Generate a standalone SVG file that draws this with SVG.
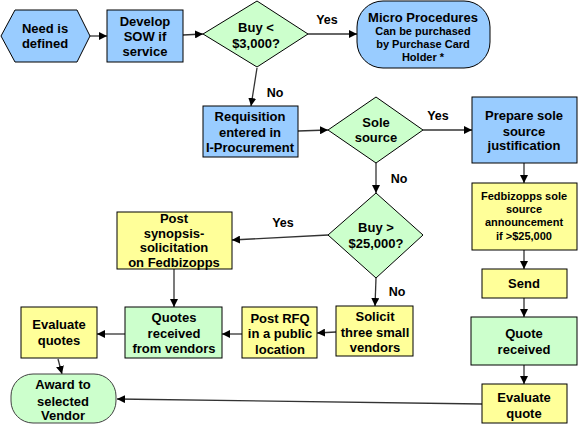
<svg xmlns="http://www.w3.org/2000/svg" width="578" height="424" viewBox="0 0 578 424">
<defs>
<marker id="ah" viewBox="0 0 10 10" refX="10" refY="5" markerWidth="8" markerHeight="8" markerUnits="userSpaceOnUse" orient="auto">
<path d="M0,0 L10,5 L0,10 z" fill="#000"/>
</marker>
<style>
.b{fill:#99CCFF;stroke:#000;stroke-width:1}
.g{fill:#CCFFCC;stroke:#000;stroke-width:1}
.y{fill:#FFFF99;stroke:#000;stroke-width:1}
.gr{fill:#CCFFCC;stroke:#404040;stroke-width:1}
text{font-family:"Liberation Sans",Arial,sans-serif;font-weight:bold;fill:#000;text-anchor:middle}
.t{font-size:13px}
.s{font-size:11px}
.l{font-size:12.5px;text-anchor:middle}
.c line{stroke:#333;stroke-width:1.3;marker-end:url(#ah)}
</style>
</defs>
<rect width="578" height="424" fill="#fff"/>
<g class="c" id="connectors">
<line x1="90" y1="36" x2="107" y2="36"/>
<line x1="183" y1="35" x2="203" y2="34"/>
<line x1="308" y1="34" x2="357" y2="34"/>
<line x1="257" y1="68" x2="251" y2="106"/>
<line x1="298" y1="131" x2="328" y2="130"/>
<line x1="423" y1="130" x2="472" y2="130"/>
<line x1="524" y1="163" x2="524" y2="183"/>
<line x1="376" y1="163" x2="376" y2="193"/>
<line x1="328" y1="235" x2="232" y2="240"/>
<line x1="174" y1="269" x2="174" y2="307"/>
<line x1="376" y1="278" x2="375" y2="306"/>
<line x1="336" y1="332" x2="317" y2="333"/>
<line x1="242" y1="334" x2="222" y2="334"/>
<line x1="125" y1="334" x2="97" y2="334"/>
<line x1="58" y1="359" x2="62" y2="374"/>
<line x1="524" y1="250" x2="524" y2="269"/>
<line x1="524" y1="298" x2="524" y2="317"/>
<line x1="524" y1="365" x2="524" y2="384"/>
<line x1="482" y1="404" x2="117" y2="399"/>
</g>
<g id="labels">
<text class="l" x="327" y="24">Yes</text>
<text class="l" x="275" y="97">No</text>
<text class="l" x="438" y="120">Yes</text>
<text class="l" x="399" y="183">No</text>
<text class="l" x="283" y="227">Yes</text>
<text class="l" x="397" y="296">No</text>
</g>
<g id="need">
<polygon class="b" points="1,36 15,10 77,10 90,36 77,62 15,62"/>
<text class="t" x="45" y="33">Need is</text>
<text class="t" x="45" y="48">defined</text>
</g>
<g id="sow">
<rect class="b" x="107" y="10" width="76" height="52"/>
<text class="t" x="145" y="26">Develop</text>
<text class="t" x="145" y="41">SOW if</text>
<text class="t" x="145" y="56">service</text>
</g>
<g id="buy3000">
<polygon class="g" points="203,34 257,1 308,34 257,67"/>
<text class="t" x="256" y="32">Buy &lt;</text>
<text class="t" x="256" y="48">$3,000?</text>
</g>
<g id="micro">
<rect class="b" x="357" y="1" width="133" height="67" rx="26" ry="26"/>
<text x="423" y="22" style="font-size:13px">Micro Procedures</text>
<text class="s" x="423" y="35">Can be purchased</text>
<text class="s" x="423" y="48">by Purchase Card</text>
<text class="s" x="423" y="61">Holder *</text>
</g>
<g id="requisition">
<rect class="b" x="203" y="106" width="95" height="51"/>
<text class="t" x="250" y="121">Requisition</text>
<text class="t" x="250" y="137">entered in</text>
<text class="t" x="250" y="152">I-Procurement</text>
</g>
<g id="sole">
<polygon class="g" points="328,130 376,97 423,130 376,163"/>
<text class="t" x="376" y="127">Sole</text>
<text class="t" x="376" y="142">source</text>
</g>
<g id="prepare">
<rect class="b" x="472" y="97" width="105" height="66"/>
<text class="t" x="524" y="120">Prepare sole</text>
<text class="t" x="524" y="136">source</text>
<text class="t" x="524" y="150">justification</text>
</g>
<g id="fedsole">
<rect class="y" x="472" y="183" width="105" height="67"/>
<text class="s" x="524" y="200">Fedbizopps sole</text>
<text class="s" x="524" y="213">source</text>
<text class="s" x="524" y="226">announcement</text>
<text class="s" x="524" y="240">if &gt;$25,000</text>
</g>
<g id="buy25000">
<polygon class="g" points="328,235 376,193 423,235 376,278"/>
<text class="t" x="376" y="232">Buy &gt;</text>
<text class="t" x="376" y="248">$25,000?</text>
</g>
<g id="synopsis">
<rect class="y" x="117" y="212" width="115" height="57"/>
<text class="t" x="174" y="223">Post</text>
<text class="t" x="174" y="238">synopsis-</text>
<text class="t" x="174" y="252">solicitation</text>
<text class="t" x="174" y="267">on Fedbizopps</text>
</g>
<g id="solicit">
<rect class="y" x="336" y="306" width="77" height="50"/>
<text class="t" x="375" y="321">Solicit</text>
<text class="t" x="375" y="337">three small</text>
<text class="t" x="375" y="352">vendors</text>
</g>
<g id="rfq">
<rect class="y" x="242" y="307" width="75" height="51"/>
<text class="t" x="280" y="323">Post RFQ</text>
<text class="t" x="280" y="338">in a public</text>
<text class="t" x="280" y="354">location</text>
</g>
<g id="quotes">
<rect class="g" x="125" y="307" width="97" height="51"/>
<text class="t" x="174" y="322">Quotes</text>
<text class="t" x="174" y="338">received</text>
<text class="t" x="174" y="353">from vendors</text>
</g>
<g id="evalquotes">
<rect class="y" x="21" y="307" width="76" height="51"/>
<text class="t" x="59" y="329">Evaluate</text>
<text class="t" x="59" y="345">quotes</text>
</g>
<g id="award">
<rect class="gr" x="11" y="374" width="105" height="49" rx="22" ry="22"/>
<text class="t" x="63" y="389">Award to</text>
<text class="t" x="63" y="406">selected</text>
<text class="t" x="63" y="420">Vendor</text>
</g>
<g id="send">
<rect class="y" x="482" y="269" width="85" height="29"/>
<text class="t" x="524" y="288">Send</text>
</g>
<g id="quoterec">
<rect class="g" x="471" y="317" width="106" height="48"/>
<text class="t" x="524" y="338">Quote</text>
<text class="t" x="524" y="354">received</text>
</g>
<g id="evalquote">
<rect class="y" x="482" y="384" width="85" height="39"/>
<text class="t" x="524" y="402">Evaluate</text>
<text class="t" x="524" y="418">quote</text>
</g>
</svg>
